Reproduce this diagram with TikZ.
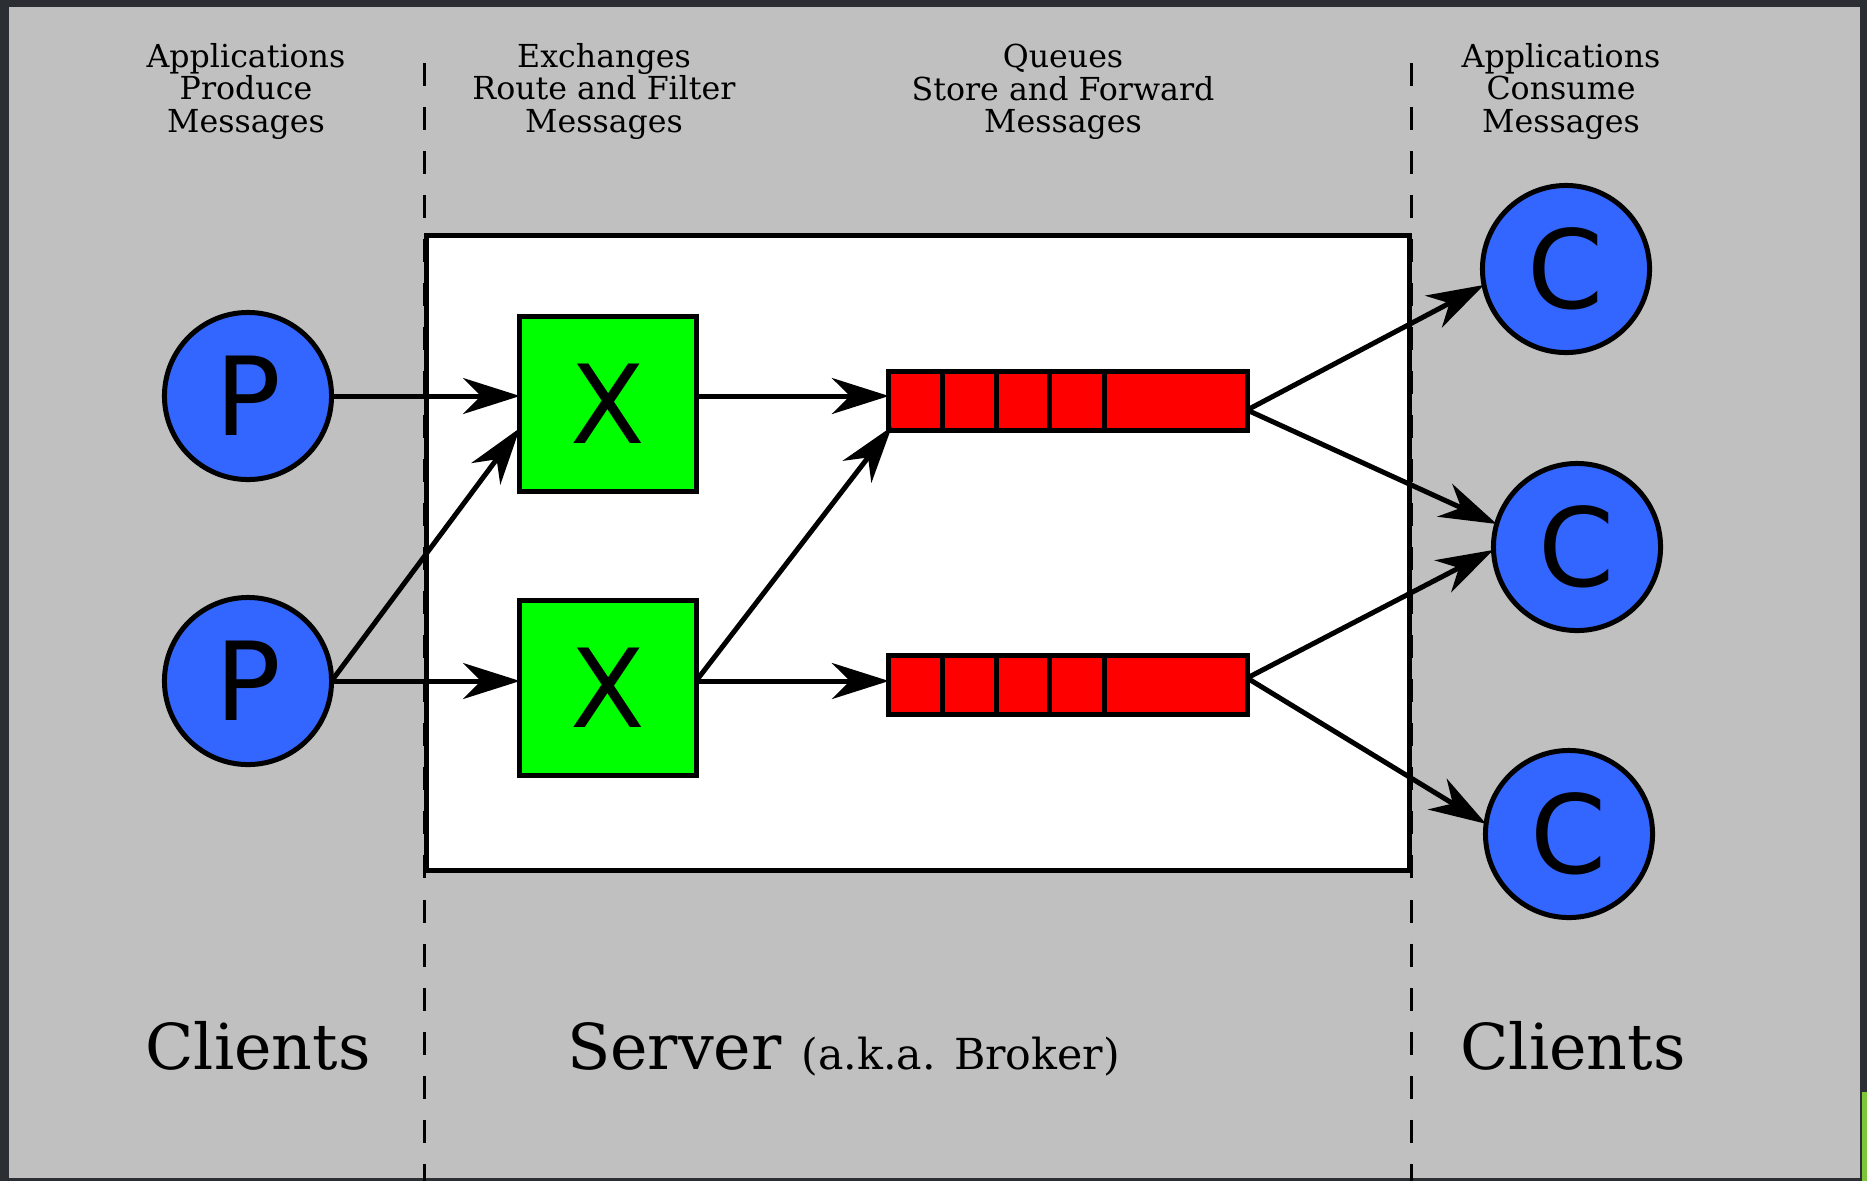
\documentclass[tikz,border=0pt]{standalone}
\usepackage{fontspec}
\setmainfont{DejaVu Serif}
\newfontfamily\glyphfont{DejaVu Sans}
\usetikzlibrary{arrows.meta,calc}
\definecolor{framedark}{HTML}{2B2F33}
\definecolor{bggray}{HTML}{C0C0C0}
\definecolor{cblue}{HTML}{3366FF}
\definecolor{xgreen}{HTML}{00FF00}
\definecolor{qred}{HTML}{FF0000}
\definecolor{limebar}{HTML}{7CC43A}
\newcommand\headfont{\fontsize{9}{9.25}\selectfont\lineskiplimit=-20pt\relax}
\begin{document}
\begin{tikzpicture}[x=0.01cm, y=-0.01cm,
  every node/.style={inner sep=0pt, outer sep=0pt},
  app/.style={circle, draw=black, line width=0.05cm, fill=cblue, minimum size=1.67cm,
    font=\glyphfont\fontsize{31}{31}\selectfont},
  exch/.style={rectangle, draw=black, line width=0.05cm, fill=xgreen,
    minimum width=1.76cm, minimum height=1.74cm, font=\glyphfont\fontsize{31}{31}\selectfont},
  queue/.style={rectangle, draw=black, line width=0.05cm, fill=qred,
    minimum width=3.58cm, minimum height=0.59cm},
  cell/.style={line width=0.05cm},
  flow/.style={line width=0.05cm, -{Stealth[length=0.57cm, width=0.36cm, inset=0.18cm]}},
  zone/.style={line width=0.03cm, dash pattern=on 0.23cm off 0.21cm},
  brokerbox/.style={rectangle, draw=black, fill=white, line width=0.05cm,
    minimum width=9.82cm, minimum height=6.34cm},
  lab/.style={align=center, anchor=north, font=\headfont},
  big/.style={anchor=base, font=\fontsize{18}{20}\selectfont}]

\useasboundingbox (0,0) rectangle (1867,1181);
% screen frame and background
\fill[framedark] (0,0) rectangle (1867,1181);
\fill[bggray] (9,7) rectangle (1860,1178);
\fill[limebar] (1862,1092) rectangle (1867,1181);

% zone separators
\draw[zone] (424,63) -- (424,1181);
\draw[zone] (1411,63) -- (1411,1181);

% server box
\node[brokerbox] (server) at (918,553) {};

% column headings
\node[lab] (h1) at (246,43) {Applications\\Produce\\Messages};
\node[lab] (h2) at (604,43) {Exchanges\\Route and Filter\\Messages};
\node[lab] (h3) at (1063,44) {Queues\\Store and Forward\\Messages};
\node[lab] (h4) at (1561,43) {Applications\\Consume\\Messages};

% bottom labels
\node[big] (cl1) at (258,1069) {Clients};
\node[big, anchor=base west] (srv) at (567,1069) {Server {\fontsize{12.15}{14}\selectfont (a.k.a. Broker)}};
\node[big] (cl2) at (1573,1069) {Clients};

% producers
\node[app] (p1) at (248,396) {P};
\node[app] (p2) at (248,681) {P};

% exchanges
\node[exch] (x1) at (608,404) {X};
\node[exch] (x2) at (608,688) {X};

% queues
\node[queue] (q1) at (1068,401) {};
\node[queue] (q2) at (1068,685) {};
\foreach \q in {q1,q2}{
  \foreach \d in {53.5,107.5,160.5,215.5}{
    \draw[cell] ($(\q.north west)+(\d,0)$) -- ($(\q.south west)+(\d,0)$);
  }
}

% consumers
\node[app] (c1) at (1566,269) {C};
\node[app] (c2) at (1577,547) {C};
\node[app] (c3) at (1569,834) {C};

% connectors
\draw[flow] (p1.east) -- (p1.east -| x1.west);
\draw[flow] (p2.east) -- (p2.east -| x2.west);
\draw[flow] (p2.east) -- ($(x1.west)+(0,24)$);
\draw[flow] (x1.east |- p1.east) -- (q1.west |- p1.east);
\draw[flow] (x2.east |- p2.east) -- (q2.west |- p2.east);
\draw[flow] (x2.east |- p2.east) -- ($(q1.south west)+(3,-4)$);
\draw[flow] ($(q1.east)+(0,9)$) -- (c1.191);
\draw[flow] ($(q1.east)+(0,9)$) -- (c2.164);
\draw[flow] ($(q2.east)+(0,-7)$) -- (c2.182);
\draw[flow] ($(q2.east)+(0,-7)$) -- (c3.173);
\end{tikzpicture}
\end{document}
